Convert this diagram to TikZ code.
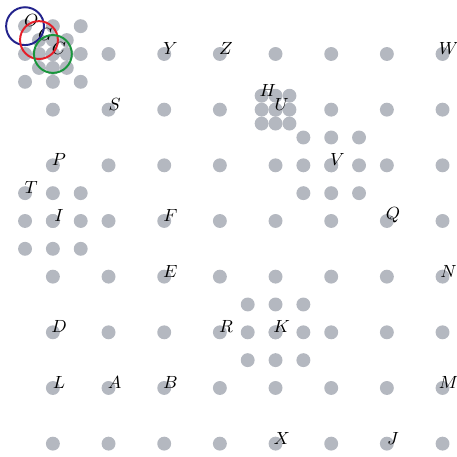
\documentclass[tikz,border=0pt]{standalone}
\begin{document}
\begin{tikzpicture}
    \def\dotRadius{0.125}
    \def\ringRadius{0.34}

    \definecolor{dotColour}{RGB}{180,184,192}
    \definecolor{ringBlue}{RGB}{35,35,140}
    \definecolor{ringRed}{RGB}{230,30,40}
    \definecolor{ringGreen}{RGB}{25,150,60}

    \tikzset{
        letter/.style={font=\small, inner sep=0pt, xshift=0.11cm, yshift=0.1cm},
        ring/.style={line width=1pt}
    }

    \useasboundingbox (-0.95,0.97) rectangle (7.25,-7.24);

    % Draw main grid of dots
    \foreach \x in {0,...,7}
        \foreach \y in {0,...,7}
            \fill[dotColour] (\x,-\y) circle (\dotRadius);

    % Wide clusters
    \foreach \cx/\cy in {0/0, 0/-3, 5/-2, 4/-5}
        \foreach \i in {-1,0,1}
            \foreach \j in {-1,0,1}
                \fill[dotColour] (\cx+0.5*\i,\cy+0.5*\j) circle (\dotRadius);

    % Tight clusters
    \foreach \cx/\cy in {0/0, 4/-1}
        \foreach \i in {-1,0,1}
            \foreach \j in {-1,0,1}
                \fill[dotColour] (\cx+0.25*\i,\cy+0.25*\j) circle (\dotRadius);

    % Label the points
    \foreach \lbl/\x/\y in {O/-0.5/0.5, G/-0.25/0.25, C/0/0, Y/2/0, Z/3/0, W/7/0,
                            S/1/-1, H/3.75/-0.75, U/4/-1, P/0/-2, V/5/-2,
                            T/-0.5/-2.5, I/0/-3, F/2/-3, Q/6/-3, E/2/-4, N/7/-4,
                            D/0/-5, R/3/-5, K/4/-5, L/0/-6, A/1/-6, B/2/-6, M/7/-6,
                            X/4/-7, J/6/-7}
        \node[letter] (n\lbl) at (\x,\y) {$\lbl$};

    % Rings round O, G and C
    \draw[ring, ringBlue] (-0.5,0.5) circle (\ringRadius);
    \draw[ring, ringRed] (-0.25,0.25) circle (\ringRadius);
    \draw[ring, ringGreen] (0,0) circle (\ringRadius);

\end{tikzpicture}
\end{document}
